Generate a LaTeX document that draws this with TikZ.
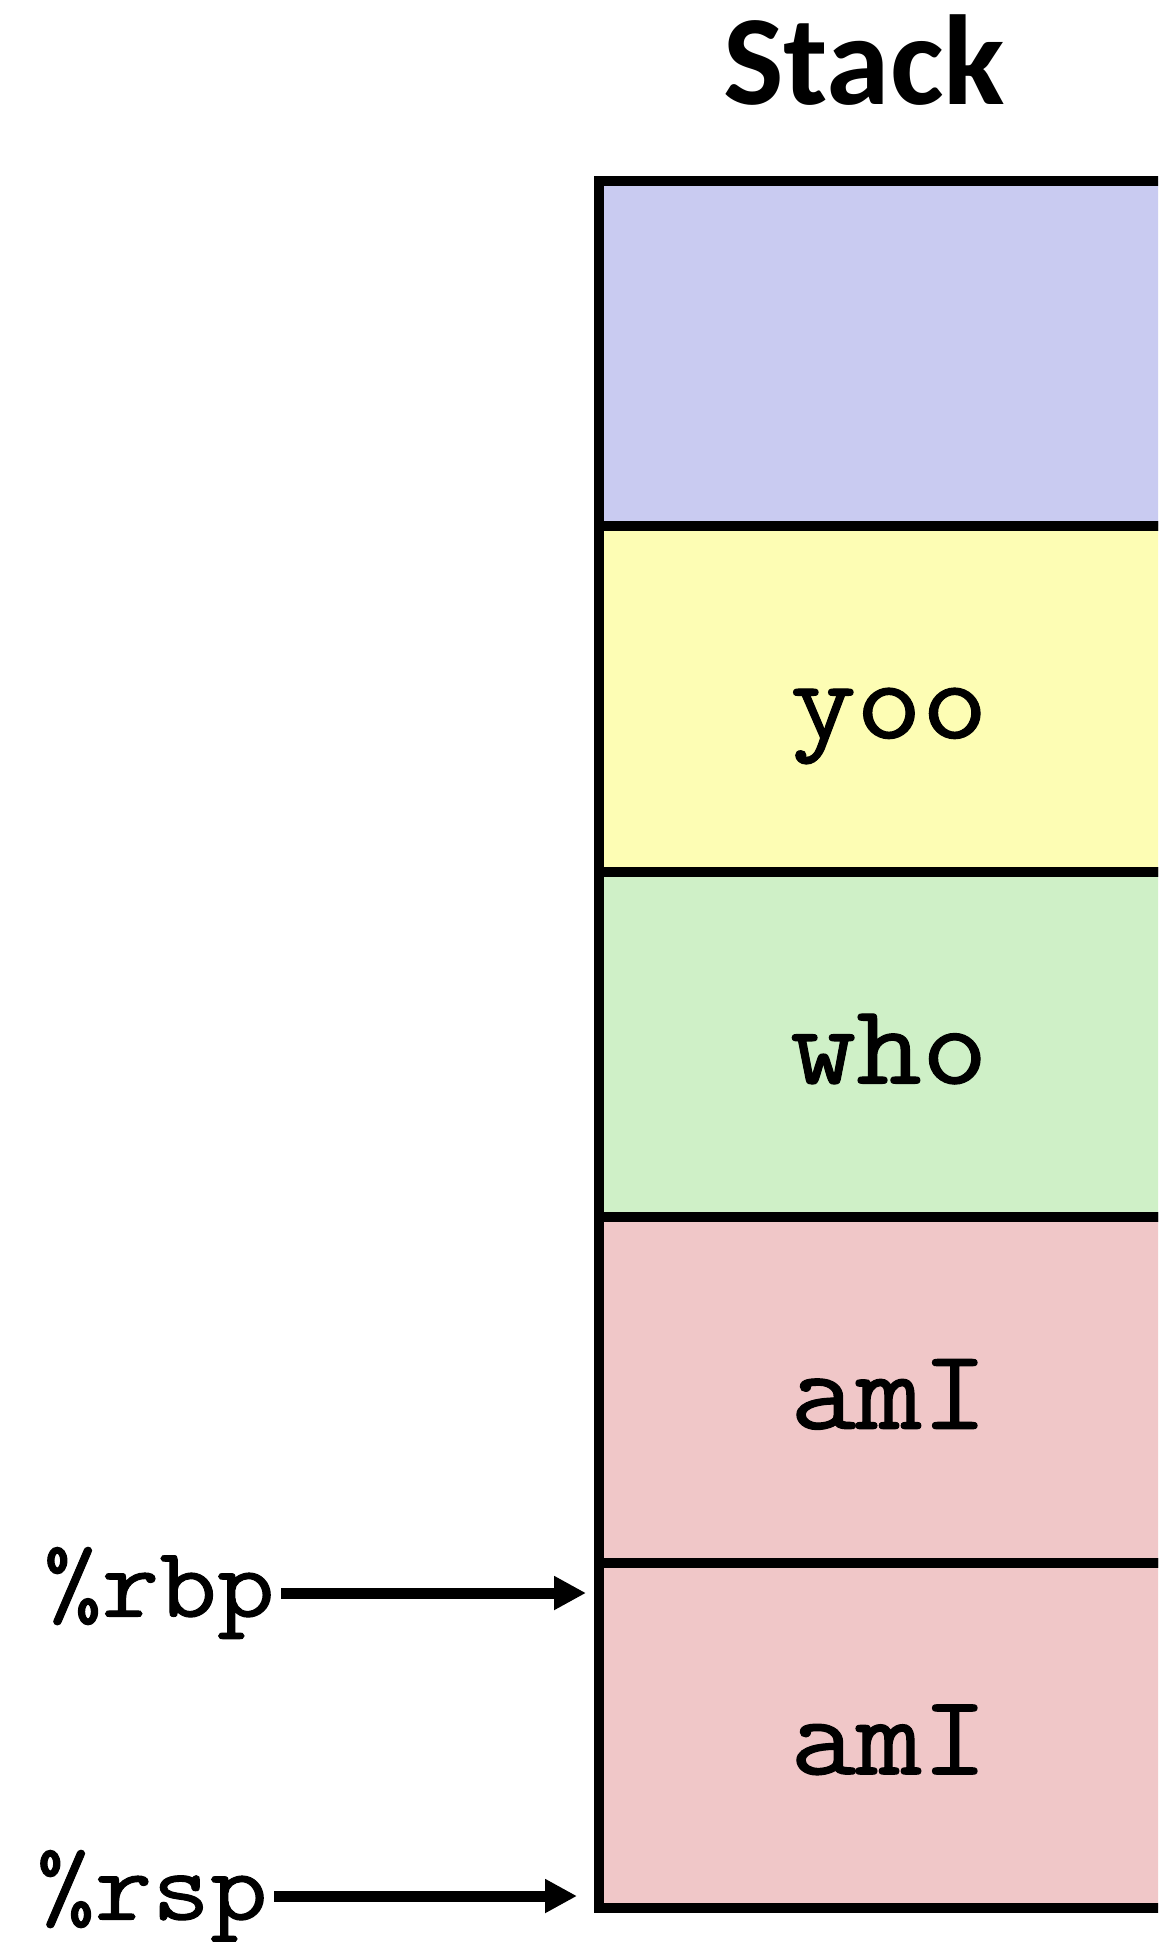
\documentclass[tikz,border=0pt]{standalone}
\usepackage{fontspec}
\newfontfamily\titlefont{Carlito}
\newfontfamily\codefont[FakeStretch=1.12, FakeBold=1]{Latin Modern Mono}
\usetikzlibrary{arrows.meta}
\definecolor{callerblue}{RGB}{201,203,241}
\definecolor{yooyellow}{RGB}{253,253,180}
\definecolor{whogreen}{RGB}{207,240,199}
\definecolor{amipink}{RGB}{240,199,200}

\begin{document}
\begin{tikzpicture}[x = .5pt, y = -.5pt,
    cell/.style = {draw, line width = 5pt, minimum width = 290pt, minimum height = 172.7pt, inner sep = 0pt},
    word/.style = {anchor = base, inner sep = 0pt, font = \codefont\fontsize{57}{66}\selectfont},
    reg/.style = {anchor = east, inner sep = 3pt, font = \codefont\fontsize{50}{60}\selectfont},
    ptr/.style = {-{Triangle[length = 16pt, width = 16pt]}, line width = 5.5pt}]
    \useasboundingbox (0,0) rectangle (1158,1942);
    \clip (0,0) rectangle (1158,1942);
    \node[font = \titlefont\bfseries\fontsize{64}{72}\selectfont, anchor = base] (title) at (864,105) {Stack};
    \node[cell, fill = callerblue] (c1) at (889,353.7) {};
    \node[cell, fill = yooyellow] (c2) at (889,699.1) {};
    \node[cell, fill = whogreen] (c3) at (889,1044.5) {};
    \node[cell, fill = amipink] (c4) at (889,1389.9) {};
    \node[cell, fill = amipink] (c5) at (889,1735.3) {};
    % Frame names
    \node[word] (yoo) at ([yshift = -19.5pt]c2.center) {yoo};
    \node[word] (who) at ([yshift = -19.5pt]c3.center) {who};
    \node[word] (ami1) at ([yshift = -19.5pt]c4.center) {amI};
    \node[word] (ami2) at ([yshift = -19.5pt]c5.center) {amI};
    % Registers
    \node[reg] (rbp) at (281,1593) {\%rbp};
    \node[reg] (rsp) at (274,1896) {\%rsp};
    \coordinate (rbptip) at (586,1593);
    \coordinate (rsptip) at (577,1896);
    \draw[ptr] (rbp) -- (rbptip);
    \draw[ptr] (rsp) -- (rsptip);
\end{tikzpicture}
\end{document}
